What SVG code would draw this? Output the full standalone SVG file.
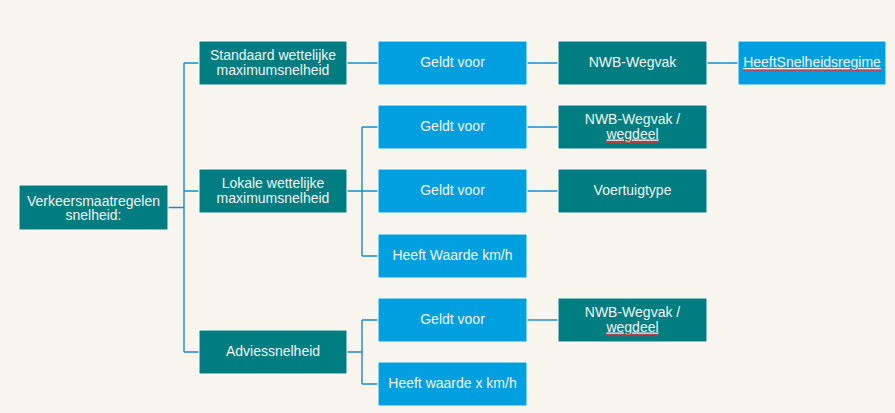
<svg xmlns="http://www.w3.org/2000/svg" width="895" height="413" viewBox="0 0 895 413">
<defs>
<style>
.bg{fill:#F8F5EF}
.teal{fill:#007D80;stroke:#FFFFFF;stroke-width:1}
.blue{fill:#009FE0;stroke:#FFFFFF;stroke-width:1}
.t{font-family:"Liberation Sans",Arial,sans-serif;font-size:14px;fill:#F4F4F4;text-anchor:middle}
.u{text-decoration:underline}
.c{fill:none;stroke:#1E8BC3;stroke-width:1.4}
</style>
<pattern id="sq" x="0" y="0" width="4" height="3" patternUnits="userSpaceOnUse">
<path d="M0,2.5 L1,0.5 L2,2.5 L3,0.5 L4,2.5" fill="none" stroke="#D9363E" stroke-width="0.8"/>
</pattern>
</defs>
<rect class="bg" x="0" y="0" width="895" height="413"/>
<g id="connectors">
<path class="c" d="M168,207.5 H184 M184,63 V352 M184,63 H199 M184,191 H199 M184,352 H199"/>
<path class="c" d="M347,63 H378 M527,63 H558 M707,63 H738"/>
<path class="c" d="M347,191 H362 M362,127 V256 M362,127 H378 M362,191 H378 M362,256 H378"/>
<path class="c" d="M527,127 H558 M527,191 H558"/>
<path class="c" d="M347,352 H362 M362,320 V384 M362,320 H378 M362,384 H378"/>
<path class="c" d="M527,320 H558"/>
</g>
<g id="root">
<rect class="teal" x="19" y="185" width="149" height="45"/>
<text class="t" x="93.5" y="205.5">Verkeersmaatregelen</text>
<text class="t" x="93.5" y="220">snelheid:</text>
</g>
<g id="standaard">
<rect class="teal" x="199" y="41" width="148" height="44"/>
<text class="t" x="273" y="60">Standaard wettelijke</text>
<text class="t" x="273" y="74.5">maximumsnelheid</text>
</g>
<g id="lokale">
<rect class="teal" x="199" y="169" width="148" height="44"/>
<text class="t" x="273" y="188">Lokale wettelijke</text>
<text class="t" x="273" y="202.5">maximumsnelheid</text>
</g>
<g id="advies">
<rect class="teal" x="199" y="330" width="148" height="44"/>
<text class="t" x="273" y="356">Adviessnelheid</text>
</g>
<g id="geldt1">
<rect class="blue" x="378" y="41" width="149" height="44"/>
<text class="t" x="452.5" y="67">Geldt voor</text>
</g>
<g id="nwb1">
<rect class="teal" x="558" y="41" width="149" height="44"/>
<text class="t" x="632.5" y="67">NWB-Wegvak</text>
</g>
<g id="regime">
<rect class="blue" x="738" y="41" width="148" height="44"/>
<text class="t u" x="812" y="67">HeeftSnelheidsregime</text>
<rect x="743" y="69" width="138" height="3" fill="url(#sq)"/>
</g>
<g id="geldt2">
<rect class="blue" x="378" y="105" width="149" height="44"/>
<text class="t" x="452.5" y="131">Geldt voor</text>
</g>
<g id="nwb2">
<rect class="teal" x="558" y="105" width="149" height="44"/>
<text class="t" x="632.5" y="124">NWB-Wegvak /</text>
<text class="t u" x="632.5" y="138.5">wegdeel</text>
<rect x="606" y="140.5" width="52" height="3" fill="url(#sq)"/>
</g>
<g id="geldt3">
<rect class="blue" x="378" y="169" width="149" height="44"/>
<text class="t" x="452.5" y="195">Geldt voor</text>
</g>
<g id="voertuig">
<rect class="teal" x="558" y="169" width="149" height="44"/>
<text class="t" x="632.5" y="195">Voertuigtype</text>
</g>
<g id="waarde">
<rect class="blue" x="378" y="234" width="149" height="44"/>
<text class="t" x="452.5" y="260">Heeft Waarde km/h</text>
</g>
<g id="geldt4">
<rect class="blue" x="378" y="298" width="149" height="44"/>
<text class="t" x="452.5" y="324">Geldt voor</text>
</g>
<g id="nwb3">
<rect class="teal" x="558" y="298" width="149" height="44"/>
<text class="t" x="632.5" y="317">NWB-Wegvak /</text>
<text class="t u" x="632.5" y="331.5">wegdeel</text>
<rect x="606" y="333.5" width="52" height="3" fill="url(#sq)"/>
</g>
<g id="waardex">
<rect class="blue" x="378" y="362" width="149" height="44"/>
<text class="t" x="452.5" y="388">Heeft waarde x km/h</text>
</g>
</svg>
